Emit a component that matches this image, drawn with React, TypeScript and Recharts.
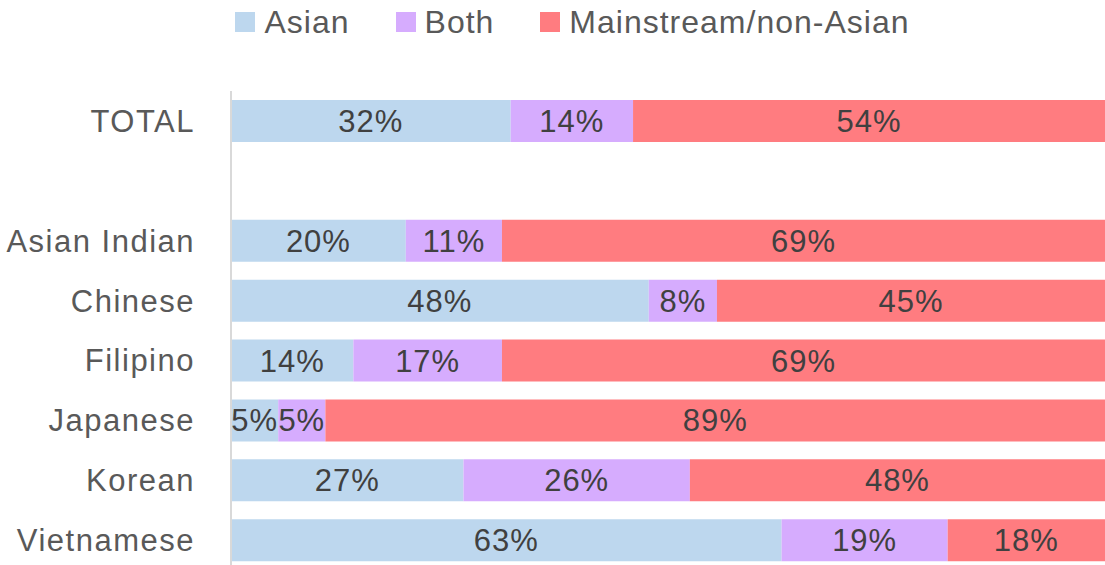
import { BarChart, Bar, XAxis, YAxis, Legend, LabelList } from 'recharts';

const categories = ['TOTAL', '', 'Asian Indian', 'Chinese', 'Filipino', 'Japanese', 'Korean', 'Vietnamese'];
const asian = [32, null, 20, 47.8, 14, 5.4, 26.6, 63];
const both = [14, null, 11, 7.8, 17, 5.4, 25.9, 19];
const mainstream = [54, null, 69, 44.6, 69, 89.2, 47.5, 18];

const seriesNames = ['Asian', 'Both', 'Mainstream/non-Asian'];
const colors = ['#BDD7EE', '#D6ACFE', '#FF7C80'];

const data = categories.map((name, i) => ({
  name,
  asian: asian[i],
  both: both[i],
  mainstream: mainstream[i],
}));

const FONT = '"Liberation Sans", Arial, sans-serif';

const pct = (v: any) => (v == null ? '' : `${Math.round(Number(v))}%`);

function LegendBox() {
  return (
    <div style={{ display: 'flex', justifyContent: 'center', alignItems: 'center', height: 44, paddingLeft: 40, fontFamily: FONT, fontSize: 32, letterSpacing: 1, color: '#595959' }}>
      {seriesNames.map((s, i) => (
        <div key={s} style={{ display: 'flex', alignItems: 'center', marginRight: i < 2 ? 46 : 0 }}>
          <span style={{ width: 20, height: 20, background: colors[i], marginRight: 9, display: 'inline-block' }} />
          <span>{s}</span>
        </div>
      ))}
    </div>
  );
}

export default function App() {
  return (
    <div style={{ position: 'absolute', left: 0, top: 0, width: 1105, height: 565, overflow: 'hidden', background: '#fff' }}>
      <BarChart
        width={1105}
        height={570}
        data={data}
        layout="vertical"
        margin={{ top: 47, right: 0, bottom: 0, left: 0 }}
        barSize={42}
      >
        <XAxis type="number" domain={[0, 100]} hide allowDataOverflow />
        <YAxis
          type="category"
          dataKey="name"
          width={231}
          tickLine={false}
          tickSize={0}
          tickMargin={36}
          axisLine={{ stroke: '#D9D9D9', strokeWidth: 2 }}
          tick={{ fill: '#595959', fontSize: 31, fontFamily: FONT, style: { letterSpacing: 1.5 } }}
          interval={0}
        />
        <Legend verticalAlign="top" align="center" content={() => <LegendBox />} wrapperStyle={{ top: 0, left: 0, width: 1105 }} />
        <Bar dataKey="asian" stackId="a" fill={colors[0]} name={seriesNames[0]} isAnimationActive={false}>
          <LabelList dataKey="asian" position="center" formatter={pct} fill="#404040" fontSize={31} fontFamily={FONT} style={{ letterSpacing: 1 }} />
        </Bar>
        <Bar dataKey="both" stackId="a" fill={colors[1]} name={seriesNames[1]} isAnimationActive={false}>
          <LabelList dataKey="both" position="center" formatter={pct} fill="#404040" fontSize={31} fontFamily={FONT} style={{ letterSpacing: 1 }} />
        </Bar>
        <Bar dataKey="mainstream" stackId="a" fill={colors[2]} name={seriesNames[2]} isAnimationActive={false}>
          <LabelList dataKey="mainstream" position="center" formatter={pct} fill="#404040" fontSize={31} fontFamily={FONT} style={{ letterSpacing: 1 }} />
        </Bar>
      </BarChart>
    </div>
  );
}
